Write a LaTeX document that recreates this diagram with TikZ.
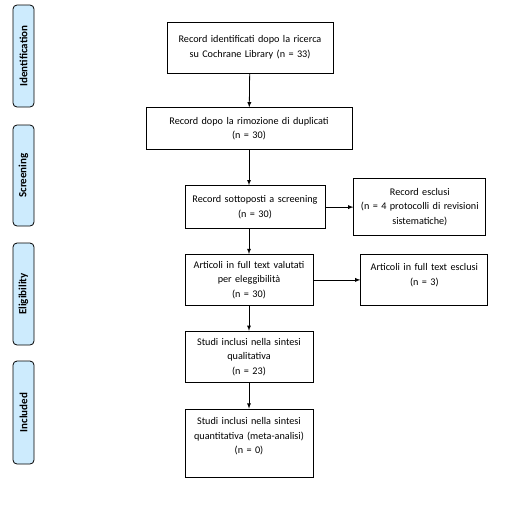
\documentclass[tikz,border=0pt]{standalone}
\usepackage{fontspec}
\setmainfont{Carlito}
\usetikzlibrary{positioning, arrows}
\definecolor{stagefill}{HTML}{CDEBFD}
\tikzset{every picture/.style={line width=0.8pt}}

\begin{document}
\begin{tikzpicture}[x=1pt,y=1pt,>=latex,
    box/.style 2 args={draw, text width=#1, inner xsep=0pt, minimum height=#2, align=center, font=\fontsize{10.2}{14.5}\selectfont},
    stage/.style={draw, fill=stagefill, rounded corners=4pt, rotate=90, minimum height=21pt, inner sep=0pt, font=\fontsize{11}{13}\selectfont\bfseries}]
        \useasboundingbox (0,0) rectangle (513,-504);

        % phases
        \node[stage,minimum width=102pt] (ident) at (23.5,-56) {Identification};
        \node[stage,minimum width=101pt] (screen) at (23.5,-175.5) {Screening};
        \node[stage,minimum width=102pt] (elig) at (23.5,-294) {Eligibility};
        \node[stage,minimum width=103pt] (incl) at (23.5,-412.5) {Included};

        % flow
        \node[box={166pt}{51pt}] (found) at (250,-47.5) {Record identificati dopo la ricerca\\su Cochrane Library (n = 33)};
        \node[box={206pt}{42pt},below=34pt of found,xshift=-1pt] (dedup) {Record dopo la rimozione di duplicati\\(n = 30)};
        \node[box={140pt}{43pt},below=35pt of dedup,xshift=6pt] (screened) {Record sottoposti a screening\\(n = 30)};
        \node[box={132pt}{57pt},right=28pt of screened] (excl) {Record esclusi\\(n = 4 protocolli di revisioni\\sistematiche)};
        \node[box={128pt}{51pt},below=25pt of screened,xshift=-6pt] (full) {Articoli in full text valutati\\per eleggibilità\\(n = 30)};
        \node[box={127pt}{51pt},right=47pt of full] (fullex) {Articoli in full text esclusi\\(n = 3)\\[-4pt]\mbox{}};
        \node[box={128pt}{51pt},below=25pt of full] (qual) {Studi inclusi nella sintesi\\qualitativa\\(n = 23)};
        \node[box={128pt}{68pt},below=26pt of qual] (quant) {Studi inclusi nella sintesi\\quantitativa (meta-analisi)\\(n = 0)\\\mbox{}};
        \coordinate (dedupout) at (dedup.south |- screened.north);
        \coordinate (screenout) at (full.north |- screened.south);

        \draw
            (found) edge[->] (dedup)
            (dedup) edge[->] (dedupout)
            (screenout) edge[->] (full)
            (screened) edge[->] (excl)
            (full) edge[->] (fullex)
            (full) edge[->] (qual)
            (qual) edge[->] (quant)
            ;
    \end{tikzpicture}
\end{document}
